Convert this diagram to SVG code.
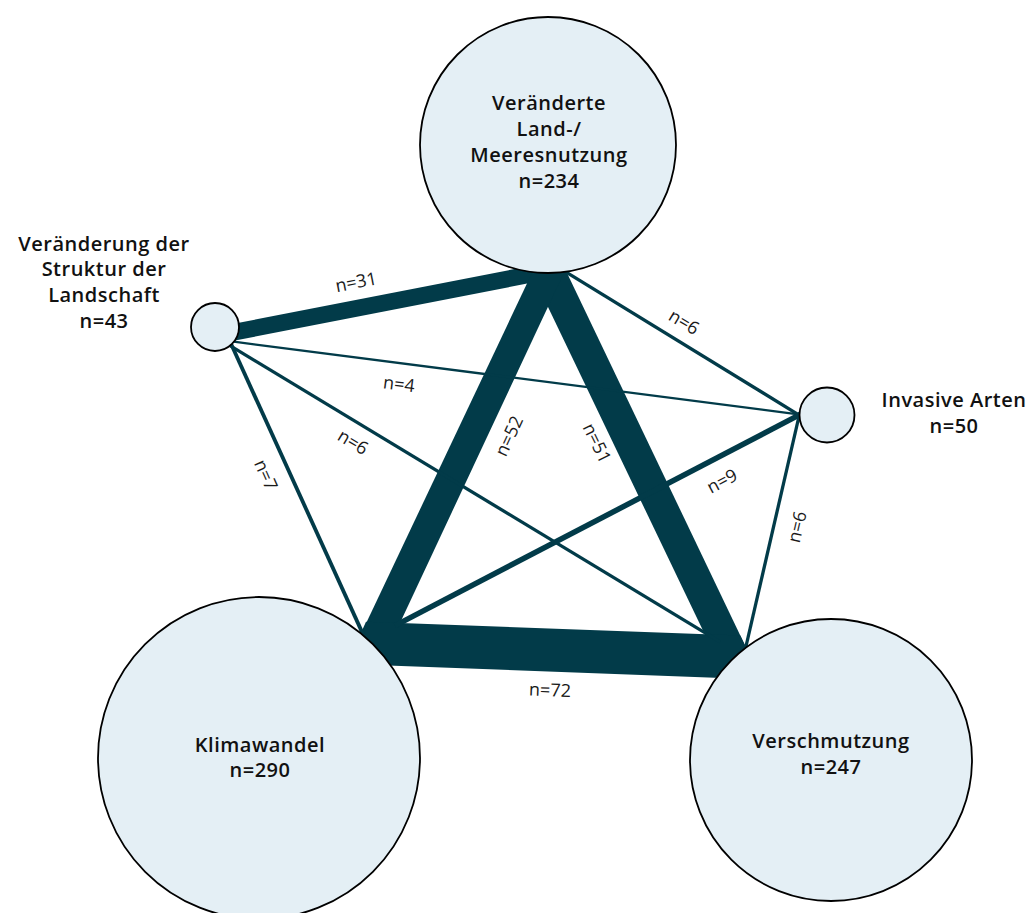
<svg xmlns="http://www.w3.org/2000/svg" width="1034" height="913" viewBox="0 0 1034 913">
<style>
.band{fill:#023b49;stroke:none}
.ln{stroke:#023b49;fill:none;stroke-linecap:butt}
.node{fill:#e4eff5;stroke:#000;stroke-width:1.8}
.nl{font-family:"Open Sans","Liberation Sans",sans-serif;font-weight:600;font-size:20px;letter-spacing:0.5px;fill:#111;text-anchor:middle}
.el{font-family:"Open Sans","Liberation Sans",sans-serif;font-weight:400;font-size:18px;fill:#1a1a1a;text-anchor:middle}
</style>
<rect width="1034" height="913" fill="#fff"/>
<g id="connectors">
<polygon class="band" points="222,326.1 545,263.1 545,280.1 222,343.1"/>
<polygon class="band" points="523.1,255 558.4,255 754.4,665 719.5,665"/>
<polygon class="band" points="540.5,255 572.2,255 389.7,645 355.8,645"/>
<polygon class="band" points="366,621.7 740.3,635.6 761.5,679.4 347,664"/>
<line class="ln" x1="230" y1="341.2" x2="806" y2="415.3" stroke-width="2.3"/>
<line class="ln" x1="230" y1="345.6" x2="720" y2="641.8" stroke-width="3.3"/>
<line class="ln" x1="231" y1="343.8" x2="365" y2="638.6" stroke-width="3.8"/>
<line class="ln" x1="560" y1="268.3" x2="806" y2="419.3" stroke-width="3.3"/>
<line class="ln" x1="395" y1="625.6" x2="806" y2="411.4" stroke-width="5.5"/>
<line class="ln" x1="800" y1="412" x2="744" y2="655" stroke-width="3.3"/>
<text class="el" transform="translate(356,282) rotate(-11)" dy="0.35em">n=31</text>
<text class="el" transform="translate(399,384) rotate(7)" dy="0.35em">n=4</text>
<text class="el" transform="translate(353,442) rotate(31)" dy="0.35em">n=6</text>
<text class="el" transform="translate(266,475) rotate(66)" dy="0.35em">n=7</text>
<text class="el" transform="translate(509,436) rotate(-65)" dy="0.35em">n=52</text>
<text class="el" transform="translate(597,443) rotate(64)" dy="0.35em">n=51</text>
<text class="el" transform="translate(684,322) rotate(31)" dy="0.35em">n=6</text>
<text class="el" transform="translate(722,481) rotate(-28)" dy="0.35em">n=9</text>
<text class="el" transform="translate(797,527) rotate(-77)" dy="0.35em">n=6</text>
<text class="el" transform="translate(550,690) rotate(2)" dy="0.35em">n=72</text>
</g>
<g id="node-land-meer">
<circle class="node" cx="548" cy="145" r="128"/>
<text class="nl" x="549" y="110">Veränderte</text>
<text class="nl" x="549" y="136">Land-/</text>
<text class="nl" x="549" y="162">Meeresnutzung</text>
<text class="nl" x="549" y="188">n=234</text>
</g>
<g id="node-landschaft">
<circle class="node" cx="215" cy="327" r="24"/>
<text class="nl" x="104" y="251">Veränderung der</text>
<text class="nl" x="104" y="276">Struktur der</text>
<text class="nl" x="104" y="302">Landschaft</text>
<text class="nl" x="104" y="328">n=43</text>
</g>
<g id="node-invasive">
<circle class="node" cx="827" cy="415" r="27.5"/>
<text class="nl" x="954" y="407">Invasive Arten</text>
<text class="nl" x="954" y="433">n=50</text>
</g>
<g id="node-klima">
<circle class="node" cx="259" cy="758" r="161"/>
<text class="nl" x="260" y="752">Klimawandel</text>
<text class="nl" x="260" y="777">n=290</text>
</g>
<g id="node-verschmutzung">
<circle class="node" cx="831" cy="760" r="141"/>
<text class="nl" x="831" y="748">Verschmutzung</text>
<text class="nl" x="831" y="774">n=247</text>
</g>
</svg>
